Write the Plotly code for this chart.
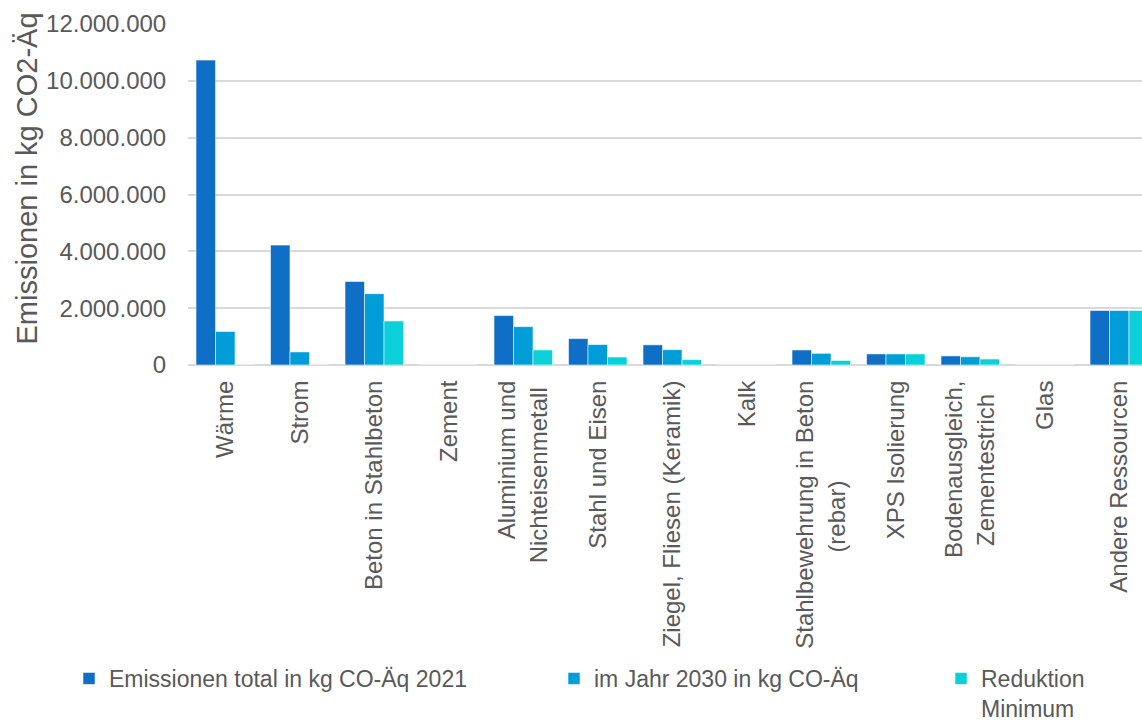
import plotly.graph_objects as go

categories = [
    "Wärme",
    "Strom",
    "Beton in Stahlbeton",
    "Zement",
    "Aluminium und<br>Nichteisenmetall",
    "Stahl und Eisen",
    "Ziegel, Fliesen (Keramik)",
    "Kalk",
    "Stahlbewehrung in Beton<br>(rebar)",
    "XPS Isolierung",
    "Bodenausgleich,<br>Zementestrich",
    "Glas",
    "Andere Ressourcen",
]

emissionen_2021 = [10730000, 4220000, 2940000, 0, 1740000, 930000, 710000, 0, 530000, 390000, 320000, 0, 1920000]
jahr_2030 = [1180000, 460000, 2510000, 0, 1350000, 720000, 540000, 0, 410000, 390000, 290000, 0, 1920000]
reduktion_min = [0, 0, 1550000, 0, 530000, 280000, 190000, 0, 160000, 390000, 210000, 0, 1920000]

series_names = [
    "Emissionen total in kg CO-Äq 2021",
    "im Jahr 2030 in kg CO-Äq",
    "Reduktion<br>Minimum",
]
series_colors = ["#0F6FC6", "#009DD9", "#0BD0D9"]
series_values = [emissionen_2021, jahr_2030, reduktion_min]
legend_ids = ["legend", "legend2", "legend3"]

y_title = "Emissionen in kg CO2-Äq"

FONT = "Liberation Sans, Arial, sans-serif"
GREY = "#595959"
NBSP = "\u00a0"


def centered(label, pad):
    # rotated tick labels are end-anchored; trailing no-break spaces
    # shift the shorter second line toward the middle of the first
    if "<br>" not in label or pad == 0:
        return label
    first, second = label.split("<br>")
    return first + "<br>" + second + NBSP * pad


second_line_pad = {4: 1, 8: 15, 10: 2}
tick_text = [centered(c, second_line_pad.get(i, 0)) for i, c in enumerate(categories)]

fig = go.Figure()
for name, color, vals, lg in zip(series_names, series_colors, series_values, legend_ids):
    fig.add_trace(
        go.Bar(
            x=categories,
            y=vals,
            name=name,
            marker=dict(color=color, line=dict(color="rgba(255,255,255,0.55)", width=1)),
            legend=lg,
        )
    )

legend_common = dict(
    orientation="h",
    xref="container",
    yref="container",
    yanchor="top",
    font=dict(family=FONT, size=23, color=GREY),
    bgcolor="rgba(0,0,0,0)",
    itemclick=False,
)

# vertical axis title, placed left of the tick labels
fig.add_annotation(
    text=y_title,
    textangle=-90,
    xref="paper",
    yref="paper",
    x=(26 - 188) / 954,
    y=(365 - 178.5) / 341,
    xanchor="center",
    yanchor="middle",
    showarrow=False,
    font=dict(family=FONT, size=29, color=GREY),
)

fig.update_layout(
    width=1142,
    height=722,
    showlegend=True,
    paper_bgcolor="white",
    plot_bgcolor="white",
    separators=",.",
    barmode="group",
    bargap=0.215,
    bargroupgap=0,
    margin=dict(l=188, r=0, t=24, b=357, autoexpand=False),
    font=dict(family=FONT, color=GREY),
    legend=dict(x=69 / 1142, y=1 - 657 / 722, **legend_common),
    legend2=dict(x=554 / 1142, y=1 - 657 / 722, **legend_common),
    legend3=dict(x=941 / 1142, y=1 - 657 / 722, valign="top", **legend_common),
    xaxis=dict(
        range=[-0.5, 12.305],
        tickmode="array",
        tickvals=categories,
        ticktext=tick_text,
        tickangle=-90,
        tickfont=dict(family=FONT, size=24, color=GREY),
        ticks="outside",
        ticklen=5,
        tickcolor="rgba(0,0,0,0)",
        showgrid=False,
        showline=False,
        zeroline=False,
    ),
    yaxis=dict(
        range=[0, 12000000],
        dtick=2000000,
        tickformat=",d",
        tickfont=dict(family=FONT, size=24, color=GREY),
        ticks="outside",
        ticklen=16,
        tickcolor="rgba(0,0,0,0)",
        showgrid=True,
        gridcolor="#D9D9D9",
        gridwidth=1.5,
        zeroline=True,
        zerolinecolor="#D9D9D9",
        zerolinewidth=1.5,
    ),
)

fig.write_html("out.html")
